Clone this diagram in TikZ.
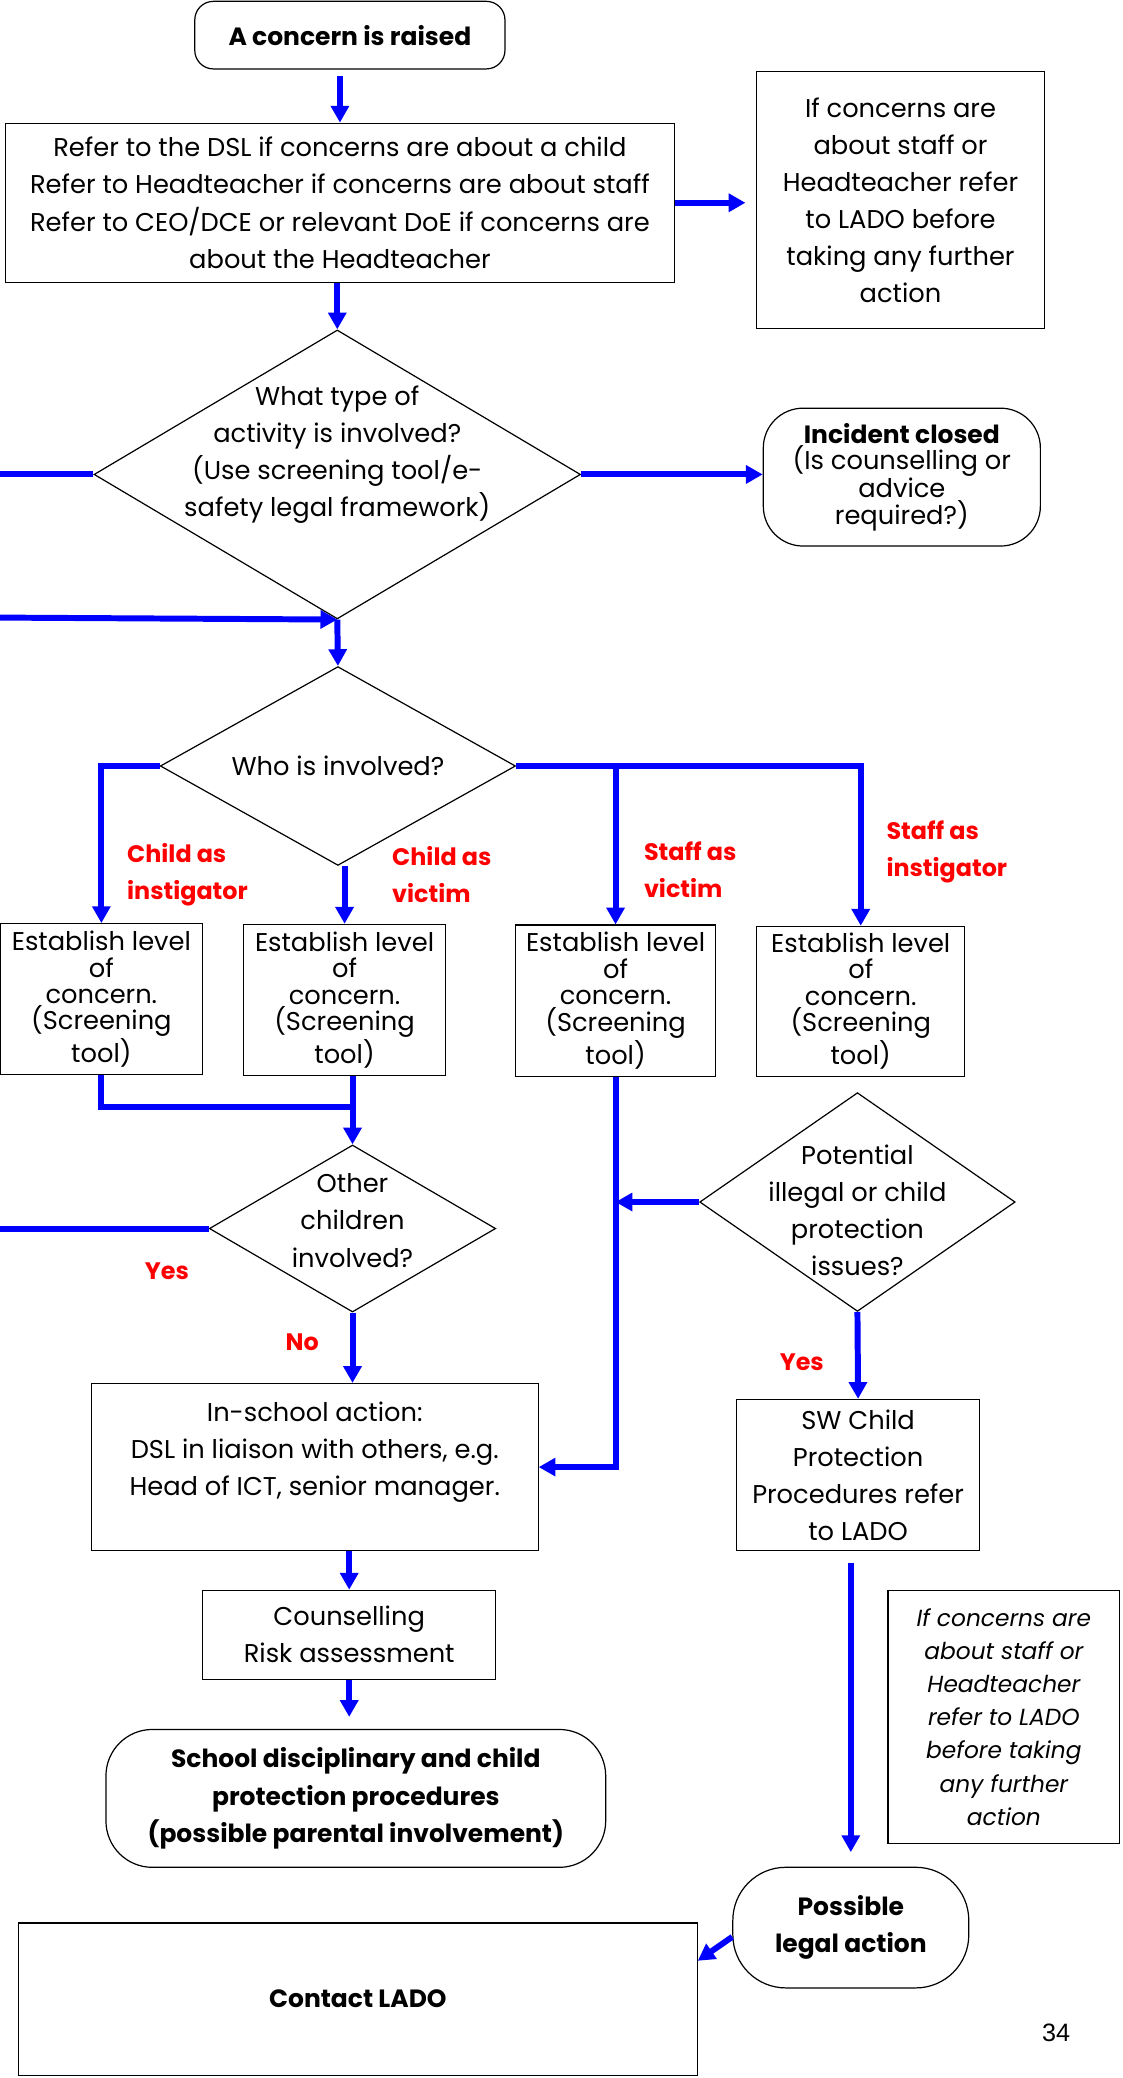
\documentclass[tikz,border=0pt]{standalone}
\usepackage{fontspec}
\setmainfont{Poppins}
\newfontfamily\numfont{Liberation Sans}
\usetikzlibrary{arrows.meta,shapes.geometric}

\begin{document}
\begin{tikzpicture}[x=0.025cm,y=-0.025cm,
  box/.style={draw,line width=0.65pt,align=center,inner sep=2pt,font=\fontsize{13.8}{19.9}\selectfont},
  tight/.style={font=\fontsize{13.8}{14.2}\selectfont},
  heavy/.style={font=\bfseries\fontsize{13.4}{19.9}\selectfont},
  rbox/.style={box,rounded corners=#1},
  dia/.style={draw,line width=0.65pt,diamond,inner sep=0pt},
  txt/.style={align=center,font=\fontsize{13.8}{19.9}\selectfont},
  flow/.style={draw=blue,line width=3.2pt,-{Triangle[length=9pt,width=9.5pt]}},
  link/.style={draw=blue,line width=3.2pt},
  lbl/.style={text=red,align=left,font=\bfseries\fontsize{12.8}{19.9}\selectfont}]
\useasboundingbox (0,0) rectangle (847,1568);

\node[rbox=10pt,heavy,minimum width=5.85cm,minimum height=1.275cm] (raised) at (264,26.5) {A concern is raised};
\node[box,minimum width=12.625cm,minimum height=3cm] (refer) at (256.5,153) {Refer to the DSL if concerns are about a child\\Refer to Headteacher if concerns are about staff\\Refer to CEO/DCE or relevant DoE if concerns are\\about the Headteacher};
\node[box,minimum width=5.425cm,minimum height=4.85cm] (ifstaff) at (679.5,151) {If concerns are\\about staff or\\Headteacher refer\\to LADO before\\taking any further\\action};

\node[dia,minimum width=9.175cm,minimum height=5.45cm] (type) at (254.5,358) {};
\node[txt] (typetext) at (254.5,343) {What type of\\activity is involved?\\(Use screening tool/e-\\safety legal framework)};
\node[rbox=0.75cm,tight,minimum width=5.225cm,minimum height=2.6cm] (closed) at (680.5,360) {\textbf{\fontsize{13.4}{14.2}\selectfont Incident closed}\\(Is counselling or\\advice\\required?)};

\node[dia,minimum width=6.7cm,minimum height=3.75cm] (who) at (255,578) {};
\node[txt] (whotext) at (255,578) {Who is involved?};

\node[box,tight,minimum width=3.8cm,minimum height=2.85cm] (est1) at (76.5,754) {Establish level\\of\\concern.\\(Screening\\tool)};
\node[box,tight,minimum width=3.8cm,minimum height=2.85cm] (est2) at (260,754.5) {Establish level\\of\\concern.\\(Screening\\tool)};
\node[box,tight,minimum width=3.775cm,minimum height=2.85cm] (est3) at (464.5,755) {Establish level\\of\\concern.\\(Screening\\tool)};
\node[box,tight,minimum width=3.925cm,minimum height=2.825cm] (est4) at (649.5,755.5) {Establish level\\of\\concern.\\(Screening\\tool)};

\node[lbl,anchor=west] (childinst) at (91,660) {Child as\\instigator};
\node[lbl,anchor=west] (childvict) at (291,660) {Child as\\victim};
\node[lbl,anchor=west] (staffvict) at (481,656) {Staff as\\victim};
\node[lbl,anchor=west] (staffinst) at (664,643) {Staff as\\instigator};

\node[dia,minimum width=5.4cm,minimum height=3.15cm] (other) at (266,927) {};
\node[txt] (othertext) at (266,921) {Other\\children\\involved?};
\node[dia,minimum width=5.95cm,minimum height=4.125cm] (potential) at (647,907) {};
\node[txt] (potentialtext) at (647,913) {Potential\\illegal or child\\protection\\issues?};

\node[lbl] (yesother) at (126,959) {Yes};
\node[lbl] (noother) at (228,1013) {No};
\node[lbl] (yespotential) at (605,1028) {Yes};

\node[box,minimum width=8.425cm,minimum height=3.15cm] (inschool) at (237.5,1107) {In-school action:\\DSL in liaison with others, e.g.\\Head of ICT, senior manager.\\~};
\node[box,minimum width=4.575cm,minimum height=2.85cm] (sw) at (647.5,1113) {SW Child\\Protection\\Procedures refer\\to LADO};
\node[box,minimum width=5.525cm,minimum height=1.675cm] (counsel) at (263.5,1233.5) {Counselling\\Risk assessment};
\node[box,minimum width=4.375cm,minimum height=4.775cm,font=\itshape\fontsize{12.5}{17.8}\selectfont] (note) at (757.5,1295.5) {If concerns are\\about staff or\\Headteacher\\refer to LADO\\before taking\\any further\\action};
\node[rbox=0.875cm,heavy,minimum width=9.425cm,minimum height=2.6cm] (school) at (268.5,1357) {School disciplinary and child\\protection procedures\\(possible parental involvement)};
\node[rbox=1cm,heavy,minimum width=4.45cm,minimum height=2.275cm] (possible) at (642,1454.5) {Possible\\legal action};
\node[box,heavy,minimum width=12.8cm,minimum height=2.875cm] (contact) at (270,1508.5) {Contact LADO};
\node[font=\numfont\fontsize{13.5}{16}\selectfont] (pageno) at (797,1534) {34};

\coordinate (edge1) at (0,358);
\coordinate (edge2) at (0,466);
\coordinate (edge3) at (0,927);
\coordinate (join) at (266,835);

\draw[flow,shorten <=3.5pt] (refer.north |- raised.south) -- (refer.north);
\draw[flow] (type.north |- refer.south) -- (type.north);
\draw[flow,shorten >=5.7pt] (refer.east) -- (ifstaff.west |- refer.east);

\draw[link] (type.west) -- (edge1);
\draw[flow] (type.east) -- (closed.west |- type.east);
\draw[flow] (edge2) -- (type.south);
\draw[flow] (type.south) -- (who.north);

\draw[flow] (who.west) -| (est1.north);
\draw[flow] (est2.north |- who.south) -- (est2.north);
\draw[flow] (who.east) -| (est4.north);
\draw[flow] (est3.north |- who.east) -- (est3.north);

\draw[link] (est1.south) |- (join);
\draw[flow] (other.north |- est2.south) -- (other.north);
\draw[link] (other.west) -- (edge3);
\draw[flow] (other.south) -- (other.south |- inschool.north);
\draw[flow] (est3.south) |- (inschool.east);
\draw[flow] (potential.west) -- (potential.west -| est3.south);
\draw[flow] (potential.south) -- (sw.north);

\draw[flow] (counsel.north |- inschool.south) -- (counsel.north);
\draw[flow,shorten >=6.4pt] (counsel.south) -- (counsel.south |- school.north);
\draw[flow,shorten <=6.4pt,shorten >=7.8pt] (possible.north |- sw.south) -- (possible.north);
\draw[flow] ([yshift=-0.175cm]possible.west) -- ([yshift=-0.725cm]contact.north east);
\end{tikzpicture}
\end{document}
